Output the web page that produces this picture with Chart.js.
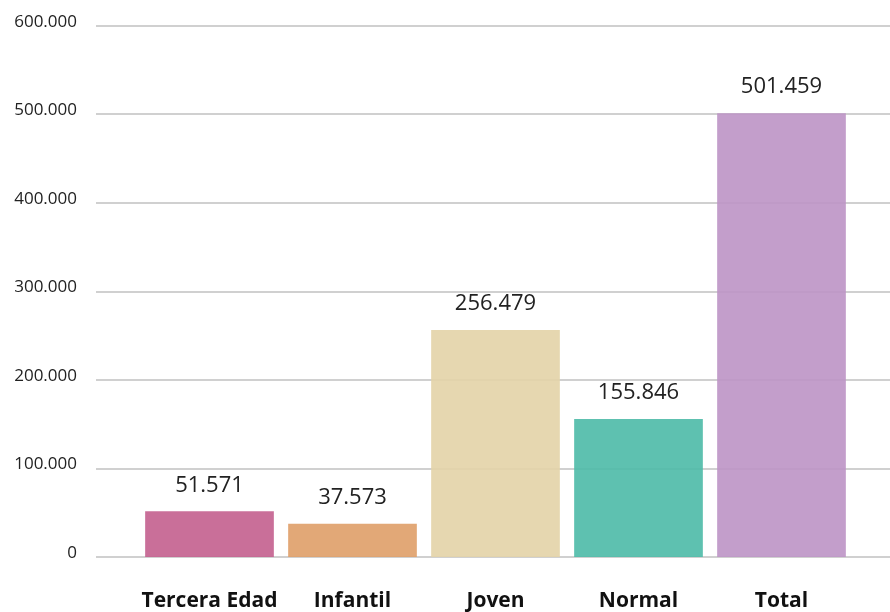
<!DOCTYPE html>
<html>
<head>
<meta charset="utf-8">
<script src="https://cdn.jsdelivr.net/npm/chart.js@4/dist/chart.umd.min.js"></script>
<style>
  html, body { margin: 0; padding: 0; background: #fff; }
  #wrap { width: 890px; height: 612px; position: relative; }
</style>
</head>
<body>
<div id="wrap"><canvas id="ventasChart"></canvas></div>
<script>
// Entradas vendidas por tipo
const categorias = ['Tercera Edad', 'Infantil', 'Joven', 'Normal', 'Total'];
const entradas = [51571, 37573, 256479, 155846, 501459];
const colores = [
    'rgba(195, 95, 142, 0.9)',
    'rgba(223, 158, 104, 0.9)',
    'rgba(227, 211, 167, 0.9)',
    'rgba(77, 186, 167, 0.9)',
    'rgba(188, 148, 197, 0.9)'
];
const ejeMax = 600000;
const ejePaso = 100000;

function miles(v) {
    return String(v).replace(/\B(?=(\d{3})+(?!\d))/g, '.');
}

// Horizontal grid lines spanning past the plot area
const lineasFondo = {
    id: 'lineasFondo',
    beforeDatasetsDraw(chart) {
        const ctx = chart.ctx;
        const y = chart.scales.y;
        ctx.save();
        ctx.strokeStyle = '#d0d0d0';
        ctx.lineWidth = 2;
        for (let v = 0; v <= ejeMax; v += ejePaso) {
            const py = Math.round(y.getPixelForValue(v));
            ctx.beginPath();
            ctx.moveTo(96, py);
            ctx.lineTo(chart.width, py);
            ctx.stroke();
        }
        ctx.restore();
    }
};

// Value labels above each bar
const etiquetasValor = {
    id: 'etiquetasValor',
    afterDatasetsDraw(chart) {
        const ctx = chart.ctx;
        const meta = chart.getDatasetMeta(0);
        ctx.save();
        ctx.font = '22px "Open Sans", sans-serif';
        ctx.fillStyle = '#222';
        ctx.textAlign = 'center';
        ctx.textBaseline = 'middle';
        meta.data.forEach((bar, i) => {
            ctx.fillText(miles(entradas[i]), bar.x, bar.y - 26);
        });
        ctx.restore();
    }
};

new Chart(document.getElementById('ventasChart'), {
    type: 'bar',
    data: {
        labels: categorias,
        datasets: [{
            data: entradas,
            backgroundColor: colores,
            borderWidth: 0,
            barPercentage: 0.9,
            categoryPercentage: 1.0
        }]
    },
    options: {
        responsive: true,
        maintainAspectRatio: false,
        animation: false,
        layout: {
            padding: { top: 26, right: 37, bottom: 0, left: 0 }
        },
        plugins: {
            legend: { display: false },
            tooltip: { enabled: false }
        },
        scales: {
            x: {
                grid: { display: false, drawTicks: false },
                border: { display: false },
                afterFit(scale) { scale.height = 55; },
                ticks: {
                    color: '#111',
                    padding: 31,
                    autoSkip: false,
                    minRotation: 0,
                    maxRotation: 0,
                    font: { family: '"Open Sans", sans-serif', size: 21, weight: 'bold' }
                }
            },
            y: {
                min: 0,
                max: ejeMax,
                grid: { display: false, drawTicks: false },
                border: { display: false },
                afterFit(scale) {
                    // keep the wide label gap from growing the plot margins
                    scale.width = 138;
                    scale.paddingTop = 10;
                    scale.paddingBottom = 10;
                },
                ticks: {
                    stepSize: ejePaso,
                    color: '#222',
                    padding: 61,
                    labelOffset: -4,
                    font: { family: '"Open Sans", sans-serif', size: 17 },
                    callback: v => miles(v)
                }
            }
        }
    },
    plugins: [lineasFondo, etiquetasValor]
});
</script>
</body>
</html>
